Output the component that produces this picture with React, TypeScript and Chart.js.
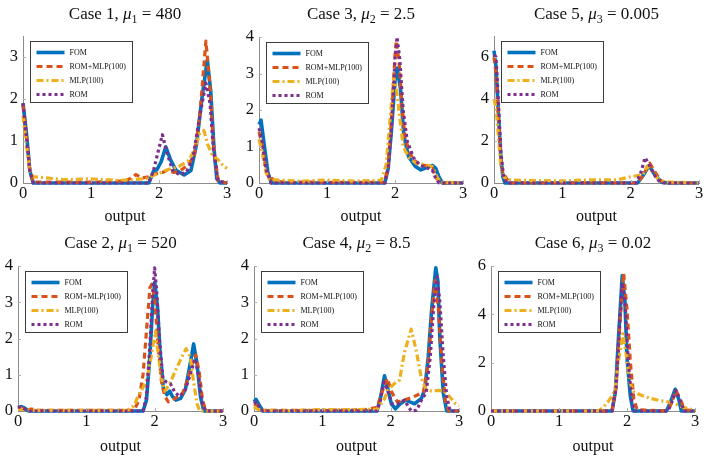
import React, { useEffect, useRef } from 'react';
import { Chart, registerables } from 'chart.js';

Chart.register(...registerables);

// ---------- shared labels / ticks ----------
const SERIES_NAMES = ['FOM', 'ROM+MLP(100)', 'MLP(100)', 'ROM'];
const SERIES_COLORS = ['#0072BD', '#D95319', '#EDB120', '#7E2F8E'];
const X_TICKS = [0, 1, 2, 3];
const X_LABEL = 'output';

type Pt = [number, number];

// ---------- Case 1, mu1 = 480 ----------
const fom1: Pt[] = [[0, 1.9], [0.05, 1.2], [0.1, 0.3], [0.15, 0], [1.85, 0], [1.92, 0.28], [1.97, 0.32], [2.03, 0.5], [2.1, 0.86], [2.17, 0.55], [2.25, 0.3], [2.37, 0.19], [2.47, 0.3], [2.55, 0.9], [2.63, 2.0], [2.71, 2.93], [2.76, 2.2], [2.81, 0.8], [2.85, 0.1], [2.9, 0], [3, 0]];
const romMlp1: Pt[] = [[0, 1.85], [0.05, 1.1], [0.1, 0.3], [0.15, 0.02], [0.5, 0.02], [1.0, 0.02], [1.5, 0.05], [1.6, 0.12], [1.66, 0.2], [1.75, 0.12], [1.85, 0.15], [1.95, 0.22], [2.05, 0.25], [2.12, 0.3], [2.22, 0.25], [2.32, 0.3], [2.42, 0.42], [2.52, 0.65], [2.6, 1.6], [2.69, 3.38], [2.75, 2.3], [2.8, 0.9], [2.87, 0.05], [3, 0]];
const mlp1: Pt[] = [[0, 1.6], [0.05, 0.9], [0.1, 0.3], [0.15, 0.15], [0.3, 0.13], [0.6, 0.08], [1.0, 0.1], [1.4, 0.06], [1.8, 0.1], [1.95, 0.2], [2.1, 0.3], [2.3, 0.4], [2.45, 0.55], [2.53, 0.85], [2.6, 1.18], [2.66, 1.25], [2.72, 0.9], [2.78, 0.68], [2.87, 0.55], [2.95, 0.4], [3, 0.35]];
const rom1: Pt[] = [[0, 1.9], [0.05, 1.1], [0.1, 0.3], [0.15, 0], [1.85, 0], [1.92, 0.3], [1.98, 0.7], [2.05, 1.15], [2.12, 0.7], [2.2, 0.3], [2.3, 0.2], [2.4, 0.25], [2.5, 0.6], [2.6, 1.6], [2.69, 2.38], [2.75, 1.9], [2.8, 0.8], [2.87, 0.05], [3, 0]];

// ---------- Case 3, mu2 = 2.5 ----------
const fom3: Pt[] = [[0, 1.6], [0.03, 1.72], [0.08, 1.0], [0.13, 0.3], [0.18, 0], [1.85, 0], [1.9, 0.4], [1.95, 1.5], [2.0, 2.8], [2.03, 3.15], [2.08, 2.6], [2.13, 1.3], [2.2, 0.72], [2.3, 0.45], [2.38, 0.36], [2.47, 0.42], [2.55, 0.48], [2.6, 0.4], [2.65, 0.15], [2.7, 0], [3, 0]];
const romMlp3: Pt[] = [[0, 1.4], [0.05, 1.0], [0.1, 0.4], [0.15, 0.1], [0.2, 0.12], [0.25, 0.03], [1.0, 0.02], [1.85, 0.02], [1.9, 0.5], [1.95, 1.8], [2.0, 3.5], [2.02, 3.9], [2.06, 3.3], [2.1, 2.2], [2.15, 1.2], [2.25, 0.7], [2.35, 0.5], [2.45, 0.48], [2.55, 0.4], [2.6, 0.15], [2.68, 0], [3, 0]];
const mlp3: Pt[] = [[0, 1.2], [0.05, 0.8], [0.1, 0.3], [0.15, 0.1], [0.3, 0.08], [0.6, 0.05], [1.0, 0.08], [1.4, 0.05], [1.8, 0.08], [1.87, 0.5], [1.93, 1.8], [1.98, 2.9], [2.02, 2.6], [2.07, 1.8], [2.12, 1.0], [2.2, 0.7], [2.31, 0.54], [2.45, 0.5], [2.55, 0.45], [2.62, 0.15], [2.67, 0.02], [3, 0]];
const rom3: Pt[] = [[0, 1.5], [0.05, 1.1], [0.1, 0.4], [0.18, 0], [1.85, 0], [1.9, 0.4], [1.95, 1.6], [2.0, 3.4], [2.03, 4.0], [2.07, 3.4], [2.12, 2.0], [2.18, 1.15], [2.27, 0.7], [2.37, 0.48], [2.47, 0.42], [2.55, 0.35], [2.6, 0.12], [2.65, 0], [3, 0]];

// ---------- Case 5, mu3 = 0.005 ----------
const fom5: Pt[] = [[0, 6.3], [0.03, 5.5], [0.07, 3.0], [0.1, 1.2], [0.13, 0.3], [0.16, 0], [2.1, 0], [2.17, 0.3], [2.27, 0.83], [2.35, 0.4], [2.45, 0.05], [2.55, 0], [3, 0]];
const romMlp5: Pt[] = [[0, 6.0], [0.03, 5.2], [0.07, 2.8], [0.1, 1.2], [0.13, 0.4], [0.17, 0.3], [0.22, 0], [2.1, 0], [2.18, 0.35], [2.28, 0.94], [2.37, 0.45], [2.45, 0.1], [2.5, 0], [3, 0]];
const mlp5: Pt[] = [[0, 4.0], [0.03, 3.6], [0.07, 2.0], [0.1, 0.8], [0.14, 0.3], [0.2, 0.15], [0.5, 0.12], [1.0, 0.1], [1.4, 0.15], [1.8, 0.15], [2.0, 0.3], [2.18, 0.4], [2.24, 0.8], [2.3, 0.6], [2.4, 0.2], [2.5, 0.05], [3, 0]];
const rom5: Pt[] = [[0, 6.1], [0.03, 6.0], [0.07, 3.5], [0.1, 1.5], [0.14, 0.3], [0.18, 0], [2.08, 0], [2.15, 0.5], [2.21, 1.21], [2.3, 0.7], [2.38, 0.2], [2.45, 0], [3, 0]];

// ---------- Case 2, mu1 = 520 ----------
const fom2: Pt[] = [[0, 0.08], [0.05, 0.12], [0.1, 0.08], [0.15, 0], [1.83, 0], [1.88, 0.3], [1.93, 1.5], [1.97, 2.9], [2.0, 3.55], [2.04, 2.9], [2.08, 1.6], [2.13, 0.6], [2.18, 0.45], [2.22, 0.55], [2.26, 0.4], [2.31, 0.3], [2.38, 0.35], [2.45, 0.6], [2.52, 1.3], [2.57, 1.85], [2.62, 1.3], [2.67, 0.4], [2.72, 0], [3, 0]];
const romMlp2: Pt[] = [[0, 0.05], [0.05, 0.08], [0.1, 0.03], [0.2, 0.05], [0.3, 0.02], [1.7, 0.02], [1.77, 0.3], [1.83, 1.0], [1.88, 2.2], [1.93, 3.4], [1.96, 3.5], [2.0, 3.1], [2.05, 1.8], [2.1, 0.8], [2.15, 0.4], [2.2, 0.25], [2.3, 0.35], [2.4, 0.45], [2.47, 0.8], [2.54, 1.25], [2.6, 1.55], [2.65, 1.1], [2.7, 0.3], [2.75, 0], [3, 0]];
const mlp2: Pt[] = [[0, 0.05], [0.2, 0.02], [1.6, 0.02], [1.7, 0.15], [1.75, 0.38], [1.83, 0.65], [1.89, 0.9], [1.95, 1.5], [2.01, 2.2], [2.05, 1.6], [2.1, 0.9], [2.15, 0.55], [2.22, 0.75], [2.3, 1.1], [2.4, 1.5], [2.46, 1.72], [2.52, 1.5], [2.57, 0.8], [2.62, 0.2], [2.66, 0], [3, 0]];
const rom2: Pt[] = [[0, 0.1], [0.05, 0.12], [0.1, 0.05], [0.15, 0], [1.83, 0], [1.88, 0.4], [1.93, 1.8], [1.97, 3.2], [2.0, 3.95], [2.03, 3.3], [2.07, 2.0], [2.12, 0.9], [2.17, 0.8], [2.23, 0.75], [2.3, 0.5], [2.37, 0.4], [2.45, 0.6], [2.52, 1.0], [2.59, 1.45], [2.64, 1.0], [2.7, 0.2], [2.75, 0], [3, 0]];

// ---------- Case 4, mu2 = 8.5 ----------
const fom4: Pt[] = [[0, 0.25], [0.03, 0.32], [0.08, 0.15], [0.13, 0], [1.8, 0], [1.85, 0.35], [1.91, 0.97], [1.96, 0.6], [2.01, 0.2], [2.07, 0.06], [2.14, 0.2], [2.22, 0.3], [2.28, 0.25], [2.35, 0.2], [2.45, 0.35], [2.5, 0.6], [2.55, 1.5], [2.6, 2.8], [2.66, 3.95], [2.69, 3.6], [2.72, 2.0], [2.77, 0.5], [2.82, 0], [3, 0]];
const romMlp4: Pt[] = [[0, 0.2], [0.05, 0.15], [0.1, 0.02], [0.5, 0.02], [1.0, 0.02], [1.6, 0.03], [1.8, 0.1], [1.87, 0.5], [1.95, 0.9], [2.02, 0.5], [2.1, 0.25], [2.2, 0.3], [2.32, 0.38], [2.4, 0.45], [2.48, 0.52], [2.55, 1.3], [2.6, 2.6], [2.65, 3.6], [2.7, 2.8], [2.75, 1.3], [2.8, 0.3], [2.85, 0], [3, 0]];
const mlp4: Pt[] = [[0, 0.12], [0.05, 0.05], [0.15, 0.02], [0.5, 0.01], [1.0, 0.04], [1.5, 0.04], [1.8, 0.05], [1.9, 0.3], [1.97, 0.6], [2.05, 0.75], [2.13, 0.85], [2.2, 1.6], [2.3, 2.26], [2.37, 1.7], [2.45, 0.9], [2.52, 0.6], [2.6, 0.55], [2.7, 0.57], [2.78, 0.55], [2.86, 0.4], [2.95, 0.2], [3, 0.14]];
const rom4: Pt[] = [[0, 0.2], [0.03, 0.25], [0.08, 0.1], [0.13, 0], [1.8, 0], [1.85, 0.3], [1.9, 0.8], [1.95, 0.6], [2.02, 0.2], [2.1, 0.2], [2.2, 0.3], [2.25, 0.15], [2.3, 0], [2.38, 0.02], [2.45, 0.3], [2.52, 0.5], [2.58, 1.5], [2.63, 2.9], [2.68, 3.7], [2.72, 3.0], [2.77, 1.5], [2.82, 0.4], [2.87, 0], [3, 0]];

// ---------- Case 6, mu3 = 0.02 ----------
const fom6: Pt[] = [[0, 0], [1.78, 0], [1.83, 0.8], [1.87, 2.8], [1.93, 5.6], [1.97, 4.5], [2.0, 2.2], [2.05, 0.6], [2.09, 0], [2.58, 0], [2.63, 0.3], [2.71, 0.9], [2.76, 0.5], [2.8, 0], [3, 0]];
const romMlp6: Pt[] = [[0, 0], [1.78, 0], [1.84, 1.0], [1.9, 3.8], [1.95, 5.7], [2.0, 4.2], [2.05, 2.0], [2.1, 0.5], [2.15, 0.05], [2.6, 0], [2.65, 0.3], [2.72, 0.85], [2.78, 0.5], [2.85, 0.05], [3, 0]];
const mlp6: Pt[] = [[0, 0], [1.58, 0], [1.65, 0.15], [1.72, 0.38], [1.82, 0.8], [1.87, 2.0], [1.94, 3.2], [1.99, 2.3], [2.04, 1.2], [2.1, 0.8], [2.2, 0.66], [2.35, 0.52], [2.48, 0.43], [2.6, 0.38], [2.7, 0.3], [2.8, 0.18], [2.9, 0.1], [3, 0.03]];
const rom6: Pt[] = [[0, 0], [1.78, 0], [1.84, 1.0], [1.89, 3.5], [1.93, 5.3], [1.97, 4.5], [2.02, 2.0], [2.07, 0.4], [2.11, 0], [2.6, 0], [2.65, 0.3], [2.72, 0.85], [2.78, 0.45], [2.84, 0], [3, 0]];

// ---------- panel titles / y scales ----------
const CASE_NUMBERS = [1, 3, 5, 2, 4, 6];
const MU_INDEX = ['1', '2', '3', '1', '2', '3'];
const MU_VALUES = ['480', '2.5', '0.005', '520', '8.5', '0.02'];
const Y_MAX = [3.5, 4, 7, 4, 4, 6];
const Y_TICKS = [[0, 1, 2, 3], [0, 1, 2, 3, 4], [0, 2, 4, 6], [0, 1, 2, 3, 4], [0, 1, 2, 3, 4], [0, 2, 4, 6]];
const SERIES = [
  [fom1, romMlp1, mlp1, rom1],
  [fom3, romMlp3, mlp3, rom3],
  [fom5, romMlp5, mlp5, rom5],
  [fom2, romMlp2, mlp2, rom2],
  [fom4, romMlp4, mlp4, rom4],
  [fom6, romMlp6, mlp6, rom6],
];

// ---------- layout (canvas box + plot area inside it) ----------
const LAYOUT = [
  { x: 0, y: 0, w: 236, h: 229, l: 23, r: 227, t: 36, b: 183 },
  { x: 236, y: 0, w: 234, h: 229, l: 23, r: 227, t: 37, b: 183 },
  { x: 470, y: 0, w: 239, h: 229, l: 24, r: 229, t: 36, b: 183 },
  { x: 0, y: 229, w: 236, h: 230, l: 18, r: 223, t: 37, b: 182 },
  { x: 236, y: 229, w: 234, h: 230, l: 18, r: 223, t: 37, b: 182 },
  { x: 470, y: 229, w: 239, h: 230, l: 21, r: 225, t: 37, b: 182 },
];

const SERIF = '"Liberation Serif", "Times New Roman", serif';
const TEXT_COLOR = '#111111';
const AXIS_COLOR = '#8c8c8c';
const DASHES = [[], [6, 4], [7, 3, 2, 3], [3, 3]];
const WIDTHS = [3.6, 3.2, 3.2, 3.2];

function makePlugins(i: number) {
  const titlePlugin = {
    id: 'caseTitle' + i,
    afterDraw(chart: any) {
      const { ctx, chartArea } = chart;
      const parts = [
        { text: `Case ${CASE_NUMBERS[i]}, `, font: `17px ${SERIF}`, dy: 0 },
        { text: 'μ', font: `italic 17px ${SERIF}`, dy: 0 },
        { text: MU_INDEX[i], font: `12px ${SERIF}`, dy: 4 },
        { text: ` = ${MU_VALUES[i]}`, font: `17px ${SERIF}`, dy: 0 },
      ];
      ctx.save();
      let total = 0;
      const widths = parts.map((p) => {
        ctx.font = p.font;
        const w = ctx.measureText(p.text).width;
        total += w;
        return w;
      });
      let x = (chartArea.left + chartArea.right) / 2 - total / 2;
      const base = 19;
      ctx.fillStyle = TEXT_COLOR;
      ctx.textBaseline = 'alphabetic';
      ctx.textAlign = 'left';
      parts.forEach((p, k) => {
        ctx.font = p.font;
        ctx.fillText(p.text, x, base + p.dy);
        x += widths[k];
      });
      ctx.restore();
    },
  };

  const innerTicks = {
    id: 'innerTicks' + i,
    afterDatasetsDraw(chart: any) {
      const { ctx, chartArea, scales } = chart;
      ctx.save();
      ctx.strokeStyle = '#b0b0b0';
      ctx.lineWidth = 1;
      ctx.beginPath();
      X_TICKS.forEach((v) => {
        if (v === 0) return;
        const px = Math.round(scales.x.getPixelForValue(v)) + 0.5;
        ctx.moveTo(px, chartArea.bottom);
        ctx.lineTo(px, chartArea.bottom - 3);
      });
      Y_TICKS[i].forEach((v) => {
        if (v === 0) return;
        const py = Math.round(scales.y.getPixelForValue(v)) + 0.5;
        ctx.moveTo(chartArea.left, py);
        ctx.lineTo(chartArea.left + 3, py);
      });
      ctx.stroke();
      ctx.restore();
    },
  };

  const boxLegend = {
    id: 'boxLegend' + i,
    afterDraw(chart: any) {
      const { ctx, chartArea } = chart;
      const bx = Math.round(chartArea.left + 7) + 0.5;
      const by = Math.round(chartArea.top + 5) + 0.5;
      const bw = 102;
      const bh = 61;
      ctx.save();
      ctx.fillStyle = '#ffffff';
      ctx.fillRect(bx, by, bw, bh);
      ctx.strokeStyle = '#3c3c3c';
      ctx.lineWidth = 1;
      ctx.strokeRect(bx, by, bw, bh);
      chart.data.datasets.forEach((ds: any, k: number) => {
        const y = by + 11 + k * 14;
        ctx.beginPath();
        ctx.setLineDash(ds.borderDash || []);
        ctx.lineCap = 'butt';
        ctx.lineWidth = ds.borderWidth;
        ctx.strokeStyle = ds.borderColor;
        ctx.moveTo(bx + 6, y);
        ctx.lineTo(bx + 34, y);
        ctx.stroke();
        ctx.setLineDash([]);
        ctx.fillStyle = TEXT_COLOR;
        ctx.font = `8px ${SERIF}`;
        ctx.textBaseline = 'middle';
        ctx.textAlign = 'left';
        ctx.fillText(ds.label, bx + 39, y + 0.5);
      });
      ctx.restore();
    },
  };

  return [innerTicks, boxLegend, titlePlugin];
}

function Panel({ i }: { i: number }) {
  const ref = useRef<HTMLCanvasElement | null>(null);
  const L = LAYOUT[i];
  useEffect(() => {
    if (!ref.current) return;
    const datasets = SERIES[i].map((pts, k) => ({
      label: SERIES_NAMES[k],
      data: pts.map(([x, y]) => ({ x, y })),
      borderColor: SERIES_COLORS[k],
      backgroundColor: SERIES_COLORS[k],
      borderWidth: WIDTHS[k],
      borderDash: DASHES[k],
      borderCapStyle: 'butt',
      borderJoinStyle: 'round',
      pointRadius: 0,
      tension: 0,
      fill: false,
      clip: false,
      order: 4 - k,
    }));
    const chart = new Chart(ref.current, {
      type: 'line',
      data: { datasets } as any,
      options: {
        responsive: false,
        animation: false,
        devicePixelRatio: 1,
        layout: { padding: { left: 0, right: L.w - L.r, top: L.t, bottom: 0 } },
        plugins: { legend: { display: false }, tooltip: { enabled: false }, title: { display: false } },
        scales: {
          x: {
            type: 'linear',
            min: 0,
            max: 3,
            afterBuildTicks: (s: any) => { s.ticks = X_TICKS.map((v) => ({ value: v })); },
            afterFit: (s: any) => { s.height = L.h - L.b; },
            grid: { display: false, drawTicks: false },
            border: { display: true, color: AXIS_COLOR, width: 1 },
            ticks: { font: { family: SERIF, size: 16.5 }, color: TEXT_COLOR, padding: 1, maxRotation: 0 },
            title: { display: true, text: X_LABEL, font: { family: SERIF, size: 16 }, color: TEXT_COLOR, padding: { top: 0, bottom: 3 } },
          },
          y: {
            type: 'linear',
            min: 0,
            max: Y_MAX[i],
            afterBuildTicks: (s: any) => { s.ticks = Y_TICKS[i].map((v) => ({ value: v })); },
            afterFit: (s: any) => { s.width = L.l; },
            grid: { display: false, drawTicks: false },
            border: { display: true, color: AXIS_COLOR, width: 1 },
            ticks: { font: { family: SERIF, size: 16.5 }, color: TEXT_COLOR, padding: 5 },
          },
        },
      } as any,
      plugins: makePlugins(i) as any,
    });
    return () => chart.destroy();
  }, [i]);
  return (
    <canvas
      ref={ref}
      width={L.w}
      height={L.h}
      style={{ position: 'absolute', left: L.x, top: L.y, width: L.w, height: L.h }}
    />
  );
}

export default function App() {
  return (
    <div style={{ position: 'fixed', left: 0, top: 0, width: 709, height: 459, background: '#ffffff', overflow: 'hidden' }}>
      {LAYOUT.map((_, i) => (
        <Panel key={i} i={i} />
      ))}
    </div>
  );
}
